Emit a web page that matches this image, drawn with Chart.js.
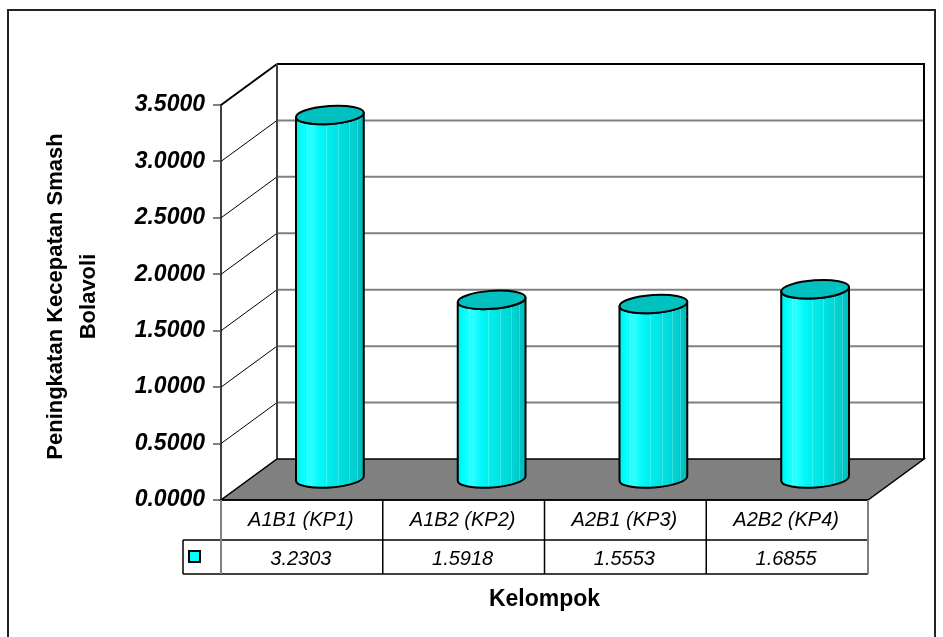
<!DOCTYPE html>
<html>
<head>
<meta charset="utf-8">
<title>Peningkatan Kecepatan Smash Bolavoli</title>
<script src="https://cdn.jsdelivr.net/npm/chart.js@4/dist/chart.umd.min.js"></script>
<style>
  html, body { margin: 0; padding: 0; background: #ffffff; }
  canvas { display: block; }
</style>
</head>
<body>
<canvas id="chart" width="943" height="637"></canvas>
<script>
// Data
const categories = ['A1B1 (KP1)', 'A1B2 (KP2)', 'A2B1 (KP3)', 'A2B2 (KP4)'];
const peningkatan = [3.2303, 1.5918, 1.5553, 1.6855];
const yTickValues = [0, 0.5, 1, 1.5, 2, 2.5, 3, 3.5];
const yTitleLines = ['Peningkatan Kecepatan Smash', 'Bolavoli'];
const xTitle = 'Kelompok';

// Styling constants
const FONT = "'Liberation Sans', Arial, Helvetica, sans-serif";
const DEPTH_X = 56;          // horizontal offset of the back wall
const DEPTH_Y = -41;         // vertical offset of the back wall
const CYL_RY = 9;            // vertical radius of cylinder ends
const CYL_TILT = -0.07;      // slight tilt of cylinder ends
const ROW1_H = 40;           // category row of the data table
const ROW2_H = 34;           // value row of the data table
const KEY_W = 38;            // legend-key column of the data table

function line(ctx, x1, y1, x2, y2) {
  ctx.beginPath();
  ctx.moveTo(x1, y1);
  ctx.lineTo(x2, y2);
  ctx.stroke();
}

function bodyPath(ctx, cx, top, base, rx) {
  const c = Math.cos(CYL_TILT), s = Math.sin(CYL_TILT);
  const lx = cx - rx * c, rX = cx + rx * c;
  ctx.beginPath();
  ctx.moveTo(lx, top - rx * s);
  ctx.lineTo(lx, base - rx * s);
  ctx.ellipse(cx, base, rx, CYL_RY, CYL_TILT, Math.PI, 0, true);
  ctx.lineTo(rX, top + rx * s);
  ctx.ellipse(cx, top, rx, CYL_RY, CYL_TILT, 0, Math.PI, false);
  ctx.closePath();
  return [lx, rX];
}

function drawCylinder(ctx, cx, top, base, rx) {
  // body fill
  const [lx, rX] = bodyPath(ctx, cx, top, base, rx);
  const g = ctx.createLinearGradient(lx, 0, rX, 0);
  g.addColorStop(0, '#00eaea');
  g.addColorStop(0.08, '#00ffff');
  g.addColorStop(0.22, '#2cffff');
  g.addColorStop(0.35, '#00f8f8');
  g.addColorStop(0.6, '#00e4e4');
  g.addColorStop(0.85, '#00d0d0');
  g.addColorStop(1, '#00baba');
  ctx.fillStyle = g;
  ctx.fill();

  // faint vertical highlights on the body
  ctx.save();
  ctx.clip();
  ctx.strokeStyle = 'rgba(255,255,255,0.22)';
  ctx.lineWidth = 1;
  [0.16, 0.45, 0.62, 0.78, 0.9].forEach(f => {
    const x = Math.round(lx + (rX - lx) * f) + 0.5;
    line(ctx, x, top - 20, x, base + 20);
  });
  ctx.restore();

  // body outline
  bodyPath(ctx, cx, top, base, rx);
  ctx.strokeStyle = '#000000';
  ctx.lineWidth = 2;
  ctx.lineJoin = 'round';
  ctx.stroke();

  // top face
  ctx.beginPath();
  ctx.ellipse(cx, top, rx, CYL_RY, CYL_TILT, 0, Math.PI * 2);
  ctx.fillStyle = '#00c0c0';
  ctx.fill();
  ctx.stroke();
}

const wall3d = {
  id: 'wall3d',
  beforeDatasetsDraw(chart) {
    const { ctx, chartArea: a, scales: { y } } = chart;
    const bl = a.left + DEPTH_X, br = a.right + DEPTH_X;
    const bt = a.top + DEPTH_Y, bb = a.bottom + DEPTH_Y;
    const maxV = yTickValues[yTickValues.length - 1];
    ctx.save();
    ctx.lineCap = 'butt';

    // gridlines: diagonal on the side wall, horizontal on the back wall
    yTickValues.forEach(v => {
      const py = y.getPixelForValue(v);
      ctx.strokeStyle = '#000000';
      ctx.lineWidth = v === maxV ? 2 : 1;
      line(ctx, a.left, py, bl, py + DEPTH_Y);
      if (v > 0) {
        ctx.strokeStyle = v === maxV ? '#000000' : '#808080';
        ctx.lineWidth = 2;
        line(ctx, bl, py + DEPTH_Y, br, py + DEPTH_Y);
      }
    });

    // back wall edges
    ctx.lineWidth = 2;
    ctx.strokeStyle = '#404040';
    line(ctx, bl, bt, bl, bb);
    ctx.strokeStyle = '#000000';
    line(ctx, br, bt - 1, br, bb);

    // floor
    ctx.beginPath();
    ctx.moveTo(a.left, a.bottom);
    ctx.lineTo(a.right, a.bottom);
    ctx.lineTo(br, bb);
    ctx.lineTo(bl, bb);
    ctx.closePath();
    ctx.fillStyle = '#808080';
    ctx.fill();
    ctx.strokeStyle = '#000000';
    ctx.lineWidth = 1.5;
    ctx.stroke();
    ctx.restore();
  },
  afterDatasetsDraw(chart) {
    const { ctx } = chart;
    const meta = chart.getDatasetMeta(0);
    ctx.save();
    meta.data.forEach(bar => {
      drawCylinder(ctx, bar.x + DEPTH_X / 2, bar.y + DEPTH_Y / 2,
        bar.base + DEPTH_Y / 2, bar.width / 2);
    });
    ctx.restore();
  },
  afterDraw(chart) {
    const { ctx, chartArea: a, scales: { x } } = chart;
    const r0 = a.bottom, r1 = a.bottom + ROW1_H, r2 = r1 + ROW2_H;
    const centers = categories.map((_, i) => x.getPixelForValue(i));
    const edges = [a.left];
    for (let i = 0; i < centers.length - 1; i++) edges.push((centers[i] + centers[i + 1]) / 2);
    edges.push(a.right);

    ctx.save();
    // data table grid
    ctx.strokeStyle = '#000000';
    ctx.lineWidth = 1.5;
    line(ctx, a.left, r0, a.right, r0);
    line(ctx, a.left - KEY_W, r1, a.right, r1);
    line(ctx, a.left - KEY_W, r2, a.right, r2);
    line(ctx, a.left - KEY_W, r1, a.left - KEY_W, r2);
    for (let i = 1; i < edges.length - 1; i++) line(ctx, edges[i], r0, edges[i], r2);
    ctx.strokeStyle = '#808080';
    ctx.lineWidth = 2;
    line(ctx, a.left, r0, a.left, r2);
    line(ctx, a.right, r0, a.right, r2);

    // legend key
    const kx = a.left - KEY_W + 6, ky = (r1 + r2) / 2 - 6;
    ctx.fillStyle = '#00ffff';
    ctx.fillRect(kx, ky, 11, 11);
    ctx.strokeStyle = '#000000';
    ctx.lineWidth = 2;
    ctx.strokeRect(kx, ky, 11, 11);

    // table text
    ctx.fillStyle = '#000000';
    ctx.textAlign = 'center';
    ctx.textBaseline = 'middle';
    ctx.font = 'italic 20px ' + FONT;
    centers.forEach((cx, i) => {
      ctx.fillText(categories[i], cx - 1, (r0 + r1) / 2);
      ctx.fillText(peningkatan[i].toFixed(4), cx - 1, (r1 + r2) / 2 + 2);
    });

    // axis titles
    ctx.font = 'bold 23px ' + FONT;
    ctx.fillText(xTitle, (a.left + a.right) / 2, r2 + 26);

    ctx.font = 'bold 22px ' + FONT;
    const midY = (a.top + a.bottom) / 2 - 6;
    yTitleLines.forEach((t, i) => {
      ctx.save();
      ctx.translate(56 + i * 33, midY);
      ctx.rotate(-Math.PI / 2);
      ctx.fillText(t, 0, 0);
      ctx.restore();
    });

    // outer frame
    ctx.strokeStyle = '#222222';
    ctx.lineWidth = 2;
    ctx.beginPath();
    ctx.moveTo(8, 640);
    ctx.lineTo(8, 10);
    ctx.lineTo(935, 10);
    ctx.lineTo(935, 640);
    ctx.stroke();
    ctx.restore();
  }
};

new Chart(document.getElementById('chart'), {
  type: 'bar',
  data: {
    labels: categories,
    datasets: [{
      label: 'Peningkatan',
      data: peningkatan,
      backgroundColor: 'rgba(0,0,0,0)',
      borderWidth: 0,
      barPercentage: 0.42,
      categoryPercentage: 1.0
    }]
  },
  options: {
    responsive: false,
    animation: false,
    devicePixelRatio: 1,
    layout: { padding: { top: 105, right: 75, bottom: 137, left: 0 } },
    plugins: {
      legend: { display: false },
      tooltip: { enabled: false },
      title: { display: false }
    },
    scales: {
      x: { display: false },
      y: {
        min: 0,
        max: 3.5,
        afterBuildTicks(scale) {
          scale.ticks = yTickValues.map(v => ({ value: v }));
        },
        afterFit(scale) { scale.width = 221; },
        ticks: {
          padding: 8,
          color: '#000000',
          font: { family: FONT, size: 23, weight: 'bold', style: 'italic' },
          callback: v => Number(v).toFixed(4)
        },
        grid: {
          drawOnChartArea: false,
          drawTicks: true,
          tickLength: 8,
          color: '#808080',
          lineWidth: 2
        },
        border: { display: true, color: '#404040', width: 2 }
      }
    }
  },
  plugins: [wall3d]
});
</script>
</body>
</html>
